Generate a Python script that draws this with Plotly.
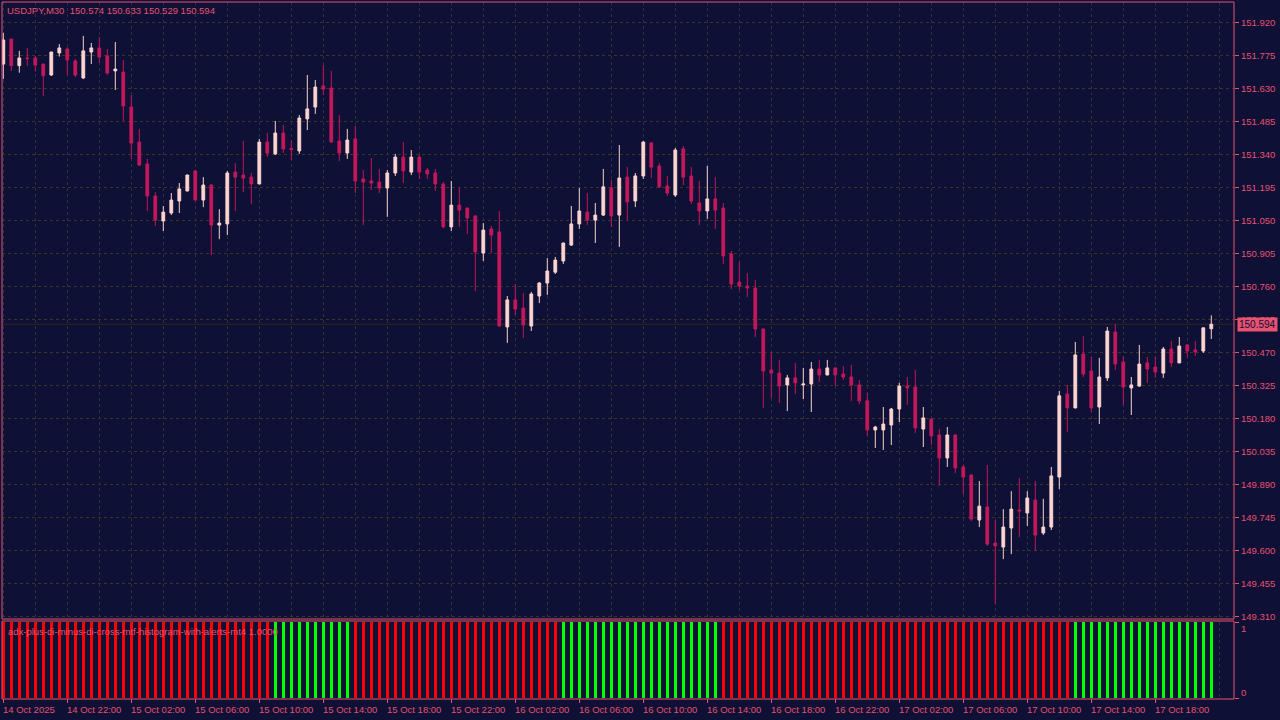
import plotly.graph_objects as go

# ---------------- data (USDJPY, M30) ----------------
open_ = [151.738, 151.848, 151.731, 151.765, 151.765, 151.738, 151.690, 151.787, 151.804, 151.752,
         151.677, 151.791, 151.809, 151.774, 151.708, 151.703, 151.549, 151.395, 151.299, 151.158,
         151.048, 151.083, 151.136, 151.180, 151.268, 151.140, 151.206, 151.030, 151.035, 151.263,
         151.250, 151.241, 151.211, 151.395, 151.343, 151.435, 151.367, 151.356, 151.497, 151.549,
         151.642, 151.633, 151.400, 151.347, 151.409, 151.233, 151.224, 151.219, 151.193, 151.259,
         151.329, 151.263, 151.329, 151.272, 151.259, 151.211, 151.022, 151.118, 151.105, 151.070,
         150.907, 151.013, 151.000, 150.582, 150.701, 150.665, 150.586, 150.718, 150.775, 150.823,
         150.872, 150.942, 151.035, 151.087, 151.052, 151.074, 151.193, 151.074, 151.241, 151.136,
         151.246, 151.391, 151.290, 151.202, 151.162, 151.365, 151.246, 151.127, 151.092, 151.145,
         151.105, 150.903, 150.780, 150.762, 150.753, 150.573, 150.393, 150.379, 150.327, 150.358,
         150.327, 150.331, 150.397, 150.371, 150.402, 150.375, 150.362, 150.327, 150.257, 150.129,
         150.129, 150.151, 150.221, 150.322, 150.318, 150.133, 150.177, 150.107, 150.006, 150.107,
         149.966, 149.931, 149.733, 149.790, 149.632, 149.614, 149.698, 149.777, 149.764, 149.821,
         149.676, 149.702, 149.922, 150.287, 150.226, 150.463, 150.388, 150.230, 150.358, 150.560,
         150.428, 150.314, 150.322, 150.424, 150.406, 150.379, 150.485, 150.424, 150.503, 150.481,
         150.476, 150.574]
high = [151.875, 151.850, 151.796, 151.809, 151.774, 151.740, 151.792, 151.826, 151.812, 151.760,
        151.862, 151.831, 151.857, 151.804, 151.835, 151.756, 151.602, 151.453, 151.321, 151.175,
        151.114, 151.171, 151.215, 151.252, 151.272, 151.241, 151.211, 151.100, 151.268, 151.303,
        151.400, 151.259, 151.409, 151.435, 151.488, 151.470, 151.404, 151.514, 151.690, 151.668,
        151.734, 151.708, 151.514, 151.453, 151.466, 151.272, 151.325, 151.277, 151.272, 151.343,
        151.395, 151.360, 151.338, 151.281, 151.277, 151.219, 151.224, 151.193, 151.107, 151.074,
        151.039, 151.026, 151.092, 150.718, 150.771, 150.731, 150.736, 150.780, 150.885, 150.890,
        150.953, 151.114, 151.193, 151.171, 151.127, 151.277, 151.228, 151.382, 151.285, 151.259,
        151.400, 151.395, 151.303, 151.246, 151.369, 151.378, 151.285, 151.224, 151.290, 151.241,
        151.127, 150.916, 150.868, 150.819, 150.789, 150.575, 150.472, 150.437, 150.371, 150.424,
        150.402, 150.428, 150.437, 150.437, 150.404, 150.410, 150.415, 150.349, 150.292, 150.147,
        150.230, 150.226, 150.336, 150.362, 150.393, 150.230, 150.179, 150.133, 150.142, 150.109,
        149.975, 149.933, 149.904, 149.975, 149.733, 149.781, 149.860, 149.918, 149.860, 149.904,
        149.826, 149.966, 150.301, 150.327, 150.516, 150.542, 150.450, 150.446, 150.582, 150.595,
        150.454, 150.362, 150.503, 150.450, 150.450, 150.494, 150.520, 150.538, 150.505, 150.520,
        150.580, 150.633]
low = [151.672, 151.708, 151.700, 151.731, 151.705, 151.598, 151.686, 151.771, 151.690, 151.681,
       151.672, 151.738, 151.743, 151.690, 151.624, 151.488, 151.321, 151.290, 151.092, 151.026,
       151.004, 151.074, 151.083, 151.178, 151.138, 151.109, 150.898, 150.968, 150.986, 151.092,
       151.175, 151.123, 151.209, 151.329, 151.338, 151.347, 151.316, 151.343, 151.448, 151.519,
       151.602, 151.393, 151.312, 151.321, 151.171, 151.030, 151.184, 151.171, 151.066, 151.246,
       151.215, 151.250, 151.233, 151.233, 151.180, 151.017, 151.004, 151.022, 150.991, 150.740,
       150.872, 150.907, 150.582, 150.512, 150.635, 150.534, 150.564, 150.687, 150.723, 150.815,
       150.859, 150.938, 151.013, 151.030, 150.951, 151.070, 151.022, 150.934, 151.052, 151.109,
       151.233, 151.237, 151.193, 151.158, 151.154, 151.206, 151.123, 151.030, 151.057, 151.013,
       150.859, 150.749, 150.745, 150.714, 150.538, 150.226, 150.270, 150.248, 150.212, 150.287,
       150.265, 150.208, 150.340, 150.369, 150.322, 150.349, 150.257, 150.243, 150.103, 150.050,
       150.041, 150.063, 150.164, 150.239, 150.116, 150.054, 150.063, 149.883, 149.966, 149.940,
       149.847, 149.728, 149.702, 149.619, 149.364, 149.561, 149.583, 149.658, 149.707, 149.597,
       149.667, 149.689, 149.869, 150.120, 150.224, 150.362, 150.208, 150.155, 150.344, 150.393,
       150.239, 150.195, 150.320, 150.336, 150.358, 150.358, 150.406, 150.422, 150.450, 150.454,
       150.468, 150.529]
close = [151.844, 151.731, 151.765, 151.762, 151.734, 151.687, 151.791, 151.809, 151.756, 151.690,
         151.796, 151.809, 151.769, 151.699, 151.716, 151.554, 151.391, 151.294, 151.158, 151.052,
         151.087, 151.140, 151.189, 151.250, 151.140, 151.206, 151.030, 151.039, 151.259, 151.241,
         151.237, 151.211, 151.395, 151.347, 151.435, 151.365, 151.362, 151.501, 151.541, 151.637,
         151.628, 151.395, 151.347, 151.404, 151.224, 151.219, 151.215, 151.193, 151.259, 151.329,
         151.268, 151.329, 151.263, 151.255, 151.211, 151.022, 151.118, 151.096, 151.061, 150.912,
         151.008, 150.986, 150.586, 150.701, 150.661, 150.591, 150.727, 150.775, 150.828, 150.876,
         150.951, 151.035, 151.092, 151.052, 151.074, 151.198, 151.070, 151.237, 151.132, 151.246,
         151.395, 151.285, 151.198, 151.171, 151.360, 151.241, 151.136, 151.092, 151.145, 151.096,
         150.894, 150.771, 150.762, 150.753, 150.573, 150.388, 150.379, 150.322, 150.358, 150.336,
         150.331, 150.397, 150.371, 150.402, 150.371, 150.362, 150.327, 150.257, 150.129, 150.142,
         150.155, 150.221, 150.322, 150.314, 150.138, 150.182, 150.103, 150.006, 150.107, 149.962,
         149.922, 149.737, 149.794, 149.627, 149.619, 149.702, 149.781, 149.773, 149.830, 149.667,
         149.702, 149.927, 150.279, 150.226, 150.459, 150.375, 150.226, 150.362, 150.564, 150.419,
         150.318, 150.327, 150.419, 150.397, 150.384, 150.485, 150.424, 150.498, 150.476, 150.472,
         150.578, 150.594]

# indicator: +DI/-DI cross state, runs of (state, number of bars); value 1.0 on every bar
di_state_runs = [(-1, 34), (1, 10), (-1, 26), (1, 20), (-1, 44), (1, 18)]
indicator_value = 1.0

price_ticks = [149.310, 149.455, 149.600, 149.745, 149.890, 150.035, 150.180, 150.325, 150.470,
               150.615, 150.760, 150.905, 151.050, 151.195, 151.340, 151.485, 151.630, 151.775, 151.920]
time_labels = ["14 Oct 2025", "14 Oct 22:00", "15 Oct 02:00", "15 Oct 06:00", "15 Oct 10:00",
               "15 Oct 14:00", "15 Oct 18:00", "15 Oct 22:00", "16 Oct 02:00", "16 Oct 06:00",
               "16 Oct 10:00", "16 Oct 14:00", "16 Oct 18:00", "16 Oct 22:00", "17 Oct 02:00",
               "17 Oct 06:00", "17 Oct 10:00", "17 Oct 14:00", "17 Oct 18:00"]
label_step = 8
symbol = "USDJPY,M30"
indicator_name = "adx-plus-di-minus-di-cross-mtf-histogram-with-alerts-mt4"

# ---------------- styling ----------------
BG = "#0e1036"
FG = "#e6526f"
BULL = "#fbd3d0"
BEAR = "#c2185b"
GRID_H = "#3a3520"
GRID_V = "#2e2e40"
BIDLINE = "#33291a"
FONT = "Liberation Sans"
FS = 9.5

W, H = 1280, 720
ML, MR, MT, MB = 2, 46, 2, 21
PW, PH = W - ML - MR, H - MT - MB


def fy(px):
    return (H - MB - px) / PH


def fx(px):
    return (px - ML) / PW


n = len(close)
idx = list(range(n))
states = []
for s, k in di_state_runs:
    states += [s] * k
up_x = [i for i in idx if states[i] > 0]
dn_x = [i for i in idx if states[i] < 0]

fig = go.Figure()
fig.add_trace(go.Candlestick(
    x=idx, open=open_, high=high, low=low, close=close,
    increasing=dict(line=dict(color=BULL, width=1), fillcolor=BULL),
    decreasing=dict(line=dict(color=BEAR, width=1), fillcolor=BEAR),
    whiskerwidth=0, xaxis="x", yaxis="y", showlegend=False, hoverinfo="skip"))
fig.add_trace(go.Bar(x=dn_x, y=[indicator_value] * len(dn_x), marker=dict(color="#ff0000", line=dict(width=0)),
                     width=0.36, xaxis="x2", yaxis="y2", showlegend=False))
fig.add_trace(go.Bar(x=up_x, y=[indicator_value] * len(up_x), marker=dict(color="#00ff00", line=dict(width=0)),
                     width=0.36, xaxis="x2", yaxis="y2", showlegend=False))

x0 = (ML - 3.3) / 8
x1 = x0 + PW / 8
y_top = 152.0110
y_bot = 149.2977

fig.update_layout(
    width=W, height=H, margin=dict(l=ML, r=MR, t=MT, b=MB, autoexpand=False),
    paper_bgcolor=BG, plot_bgcolor=BG, boxgap=0.5, bargap=0,
    font=dict(family=FONT, size=FS, color=FG),
    xaxis=dict(domain=[0, 1], anchor="y", range=[x0, x1], rangeslider=dict(visible=False),
               tickmode="linear", tick0=0, dtick=4, showgrid=True, gridcolor=GRID_V, griddash="3px,3px",
               gridwidth=1, showticklabels=False, ticks="", zeroline=False, showline=False),
    xaxis2=dict(domain=[0, 1], anchor="y2", matches="x", range=[x0, x1],
                tickmode="array", tickvals=[i * label_step for i in range(len(time_labels))],
                ticks="outside", ticklen=4, tickcolor=FG, tickwidth=1, showticklabels=False,
                showgrid=True, gridcolor=GRID_V, griddash="3px,3px",
                minor=dict(tickmode="linear", tick0=0, dtick=4, showgrid=True, gridcolor=GRID_V,
                           griddash="3px,3px", ticks=""),
                zeroline=False, showline=False),
    yaxis=dict(domain=[fy(619), 1], anchor="x", range=[y_bot, y_top], side="right",
               tickmode="array", tickvals=price_ticks, ticktext=[f"{v:.3f}" for v in price_ticks],
               ticks="outside", ticklen=4, tickcolor=FG, tickfont=dict(family=FONT, size=FS, color=FG),
               showgrid=True, gridcolor=GRID_H, griddash="3px,3px", zeroline=False, showline=False),
    yaxis2=dict(domain=[fy(698), fy(622)], anchor="x2", range=[0, 1], side="right",
                tickmode="array", tickvals=[0, 1], ticks="outside", ticklen=4, tickcolor=FG,
                showticklabels=False, showgrid=True, gridcolor=GRID_H, griddash="3px,3px",
                zeroline=False, showline=False),
)

shapes = [
    dict(type="line", xref="paper", yref="y", x0=0, x1=1, y0=close[-1], y1=close[-1],
         line=dict(color=BIDLINE, width=1), layer="below"),
    dict(type="rect", xref="paper", yref="paper", x0=0, x1=1, y0=fy(619), y1=fy(2),
         line=dict(color=FG, width=1), fillcolor="rgba(0,0,0,0)", layer="above"),
    dict(type="rect", xref="paper", yref="paper", x0=0, x1=1, y0=fy(699), y1=fy(621),
         line=dict(color=FG, width=1), fillcolor="rgba(0,0,0,0)", layer="above"),
]
fig.update_layout(shapes=shapes)

ann = []
ann.append(dict(xref="paper", yref="paper", x=fx(5), y=fy(10.5), xanchor="left", yanchor="middle",
                text=f"{symbol}\u00a0\u00a0{open_[-1]:.3f} {high[-1]:.3f} {low[-1]:.3f} {close[-1]:.3f}",
                showarrow=False, font=dict(family=FONT, size=FS, color=FG)))
ann.append(dict(xref="paper", yref="paper", x=fx(6), y=fy(631), xanchor="left", yanchor="middle",
                text=f"{indicator_name} {indicator_value:.4f}", showarrow=False,
                font=dict(family=FONT, size=FS, color=FG)))
ann.append(dict(xref="paper", yref="y", x=fx(1236.5), y=close[-1], xanchor="left", yanchor="middle",
                text=f"{close[-1]:.3f}", showarrow=False, bgcolor=FG, borderpad=1,
                font=dict(family=FONT, size=FS + 0.5, color=BG)))
for k, t in enumerate(time_labels):
    ann.append(dict(xref="x2", yref="paper", x=k * label_step, y=fy(709), xanchor="left", yanchor="middle",
                    xshift=-2, text=t, showarrow=False, font=dict(family=FONT, size=FS, color=FG)))
ann.append(dict(xref="paper", yref="paper", x=fx(1239), y=fy(628), xanchor="left", yanchor="middle",
                text="1", showarrow=False, font=dict(family=FONT, size=FS, color=FG)))
ann.append(dict(xref="paper", yref="paper", x=fx(1239), y=fy(692), xanchor="left", yanchor="middle",
                text="0", showarrow=False, font=dict(family=FONT, size=FS, color=FG)))
fig.update_layout(annotations=ann)

fig.write_html("out.html", config={"displayModeBar": False, "staticPlot": True},
               post_script="document.body.style.margin='0';document.body.style.overflow='hidden';")
